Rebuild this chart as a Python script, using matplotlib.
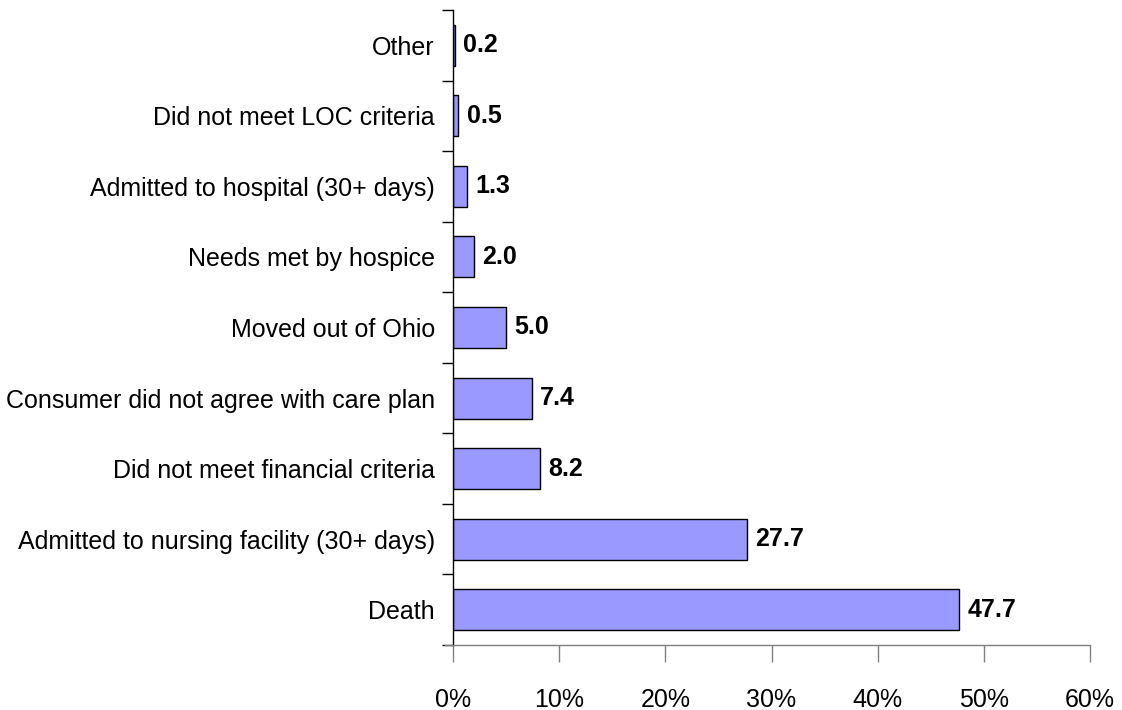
import numpy as np
import matplotlib
matplotlib.use('Agg')
import matplotlib.pyplot as plt
from matplotlib.ticker import FuncFormatter

# categories, bottom to top as drawn
categories = ['Death',
              'Admitted to nursing facility (30+ days)',
              'Did not meet financial criteria',
              'Consumer did not agree with care plan',
              'Moved out of Ohio',
              'Needs met by hospice',
              'Admitted to hospital (30+ days)',
              'Did not meet LOC criteria',
              'Other']
percent = [47.7, 27.7, 8.2, 7.4, 5.0, 2.0, 1.3, 0.5, 0.2]
xticks = [0, 10, 20, 30, 40, 50, 60]

plt.rcParams['font.family'] = ['Liberation Sans Narrow', 'Liberation Sans', 'DejaVu Sans']

fig = plt.figure(figsize=(11.22, 7.10), dpi=100)
ax = fig.add_axes([453/1122, 1 - 645/710, 637/1122, 635/710])

y = np.arange(len(categories))
ax.barh(y, percent, height=0.58, color='#9999FF', edgecolor='black', linewidth=1.0)

# value labels next to each bar
for yi, v in zip(y, percent):
    ax.annotate('%.1f' % v, (v, yi), xytext=(6, 0), textcoords='offset points',
                ha='left', va='center', fontsize=18, fontweight='bold')

ax.set_xlim(0, 60)
ax.set_ylim(-0.5, len(categories) - 0.5)
ax.set_xticks(xticks)
ax.xaxis.set_major_formatter(FuncFormatter(lambda v, p: '%d%%' % v))

# category labels at bar centers, tick marks at the boundaries
ax.set_yticks(y)
ax.set_yticklabels(categories, fontsize=18)
ax.tick_params(axis='y', which='major', length=0, pad=13)
ax.set_yticks(np.arange(len(categories) + 1) - 0.5, minor=True)
ax.tick_params(axis='y', which='minor', length=8, width=1, direction='out', color='black')

ax.tick_params(axis='x', length=12, width=1, color='#808080', labelsize=18, pad=19)
# the y axis runs on through the 0% tick
ax.xaxis.get_major_ticks()[0].tick1line.set_color('black')

for s in ['top', 'right']:
    ax.spines[s].set_visible(False)
ax.spines['left'].set_linewidth(1)
ax.spines['bottom'].set_color('#808080')
ax.spines['bottom'].set_linewidth(1)
ax.spines['bottom'].set_bounds(-0.75, 60)

fig.savefig('out.png', dpi=100)
